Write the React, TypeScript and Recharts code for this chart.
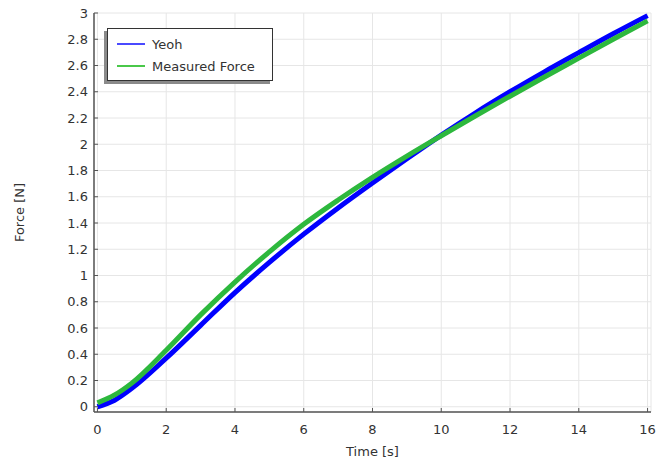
import React from "react";
import { LineChart, Line, XAxis, YAxis, CartesianGrid, Legend } from "recharts";

const times = [0, 0.5, 1, 2, 3, 4, 5, 6, 7, 8, 9, 10, 11, 12, 13, 14, 15, 16];
const yeoh = [0.0, 0.05, 0.14, 0.37, 0.62, 0.87, 1.1, 1.315, 1.515, 1.705, 1.89, 2.07, 2.24, 2.4, 2.552, 2.698, 2.842, 2.98];
const measured = [0.03, 0.09, 0.18, 0.43, 0.7, 0.95, 1.18, 1.39, 1.575, 1.748, 1.91, 2.065, 2.217, 2.366, 2.512, 2.656, 2.8, 2.94];
const xTicks = [0, 2, 4, 6, 8, 10, 12, 14, 16];
const yTicks = [0, 0.2, 0.4, 0.6, 0.8, 1, 1.2, 1.4, 1.6, 1.8, 2, 2.2, 2.4, 2.6, 2.8, 3];
const seriesNames = ["Yeoh", "Measured Force"];

const data = times.map((t, i) => ({ t, yeoh: yeoh[i], measured: measured[i] }));

const FONT = "'DejaVu Sans', Verdana, sans-serif";
const TXT = "#333";
const AX = "#555";

const BottomTick = (p: any) => (
  <g>
    <line x1={p.x} y1={p.y} x2={p.x} y2={p.y - 4} stroke={AX} strokeWidth={1} />
    <text x={p.x} y={p.y + 17} textAnchor="middle" dominantBaseline="central" fontSize={13} fill={TXT} fontFamily={FONT}>
      {p.payload.value}
    </text>
  </g>
);
const LeftTick = (p: any) => (
  <g>
    <line x1={p.x} y1={p.y} x2={p.x + 4} y2={p.y} stroke={AX} strokeWidth={1} />
    <text x={p.x - 6} y={p.y} textAnchor="end" dominantBaseline="central" fontSize={13} fill={TXT} fontFamily={FONT}>
      {String(Number(p.payload.value.toFixed(1)))}
    </text>
  </g>
);
const TopTick = (p: any) => (
  <line x1={p.x} y1={p.y} x2={p.x} y2={p.y + 4} stroke={AX} strokeWidth={1} />
);
const RightTick = (p: any) => (
  <line x1={p.x} y1={p.y} x2={p.x - 4} y2={p.y} stroke={AX} strokeWidth={1} />
);

const LegendBox = () => (
  <div
    style={{
      width: 164,
      height: 51,
      border: "1px solid #333",
      background: "#fff",
      boxShadow: "-3px 3px 0 #8a8a8a",
      fontFamily: FONT,
      fontSize: 13,
      color: TXT,
      boxSizing: "content-box",
      textAlign: "left",
    }}
  >
    {seriesNames.map((n, i) => (
      <div key={n} style={{ display: "flex", alignItems: "center", height: 22, marginTop: i === 0 ? 4 : 0 }}>
        <div style={{ width: 28, height: 2, background: i === 0 ? "#4a4aff" : "#4ac84a", marginLeft: 9, marginRight: 7 }} />
        <span>{n}</span>
      </div>
    ))}
  </div>
);

export default function App() {
  return (
    <div style={{ position: "absolute", left: 0, top: 0, background: "#fff" }}>
      <LineChart width={665} height={458} data={data} margin={{ top: 13, right: 14, bottom: 0, left: 0 }}>
        <CartesianGrid stroke="#e6e6e6" strokeWidth={1} />
        <XAxis
          dataKey="t"
          type="number"
          domain={[-0.1, 16.1]}
          ticks={xTicks}
          allowDataOverflow
          height={46}
          tickSize={0}
          tickMargin={0}
          tickLine={false}
          tick={<BottomTick />}
          axisLine={{ stroke: AX, strokeWidth: 1.5 }}
          label={{ value: "Time [s]", position: "insideBottom", offset: 2, fontSize: 13, fill: TXT, fontFamily: FONT }}
        />
        <XAxis
          xAxisId="top"
          dataKey="t"
          orientation="top"
          type="number"
          domain={[-0.1, 16.1]}
          ticks={xTicks}
          allowDataOverflow
          height={0}
          tickSize={0}
          tickMargin={0}
          tickLine={false}
          tick={<TopTick />}
          axisLine={{ stroke: AX, strokeWidth: 1.5 }}
        />
        <YAxis
          type="number"
          domain={[-0.04, 3]}
          ticks={yTicks}
          allowDataOverflow
          width={94}
          tickSize={0}
          tickMargin={0}
          tickLine={false}
          tick={<LeftTick />}
          axisLine={{ stroke: AX, strokeWidth: 1.5 }}
          label={{ value: "Force [N]", angle: -90, position: "insideLeft", offset: 19, fontSize: 13, fill: TXT, fontFamily: FONT, style: { textAnchor: "middle" } }}
        />
        <YAxis
          yAxisId="right"
          orientation="right"
          type="number"
          domain={[-0.04, 3]}
          ticks={yTicks}
          allowDataOverflow
          width={0}
          tickSize={0}
          tickMargin={0}
          tickLine={false}
          tick={<RightTick />}
          axisLine={{ stroke: AX, strokeWidth: 1.5 }}
        />
        <Legend
          layout="horizontal"
          align="center"
          verticalAlign="middle"
          wrapperStyle={{ position: "absolute", left: 107, top: 28, width: 166, height: 53 }}
          content={<LegendBox />}
        />
        <Line type="monotone" dataKey="yeoh" name="Yeoh" stroke="#0000ff" strokeWidth={5} dot={false} isAnimationActive={false} />
        <Line type="monotone" dataKey="measured" name="Measured Force" stroke="#2db83d" strokeWidth={5} dot={false} isAnimationActive={false} />
      </LineChart>
    </div>
  );
}
